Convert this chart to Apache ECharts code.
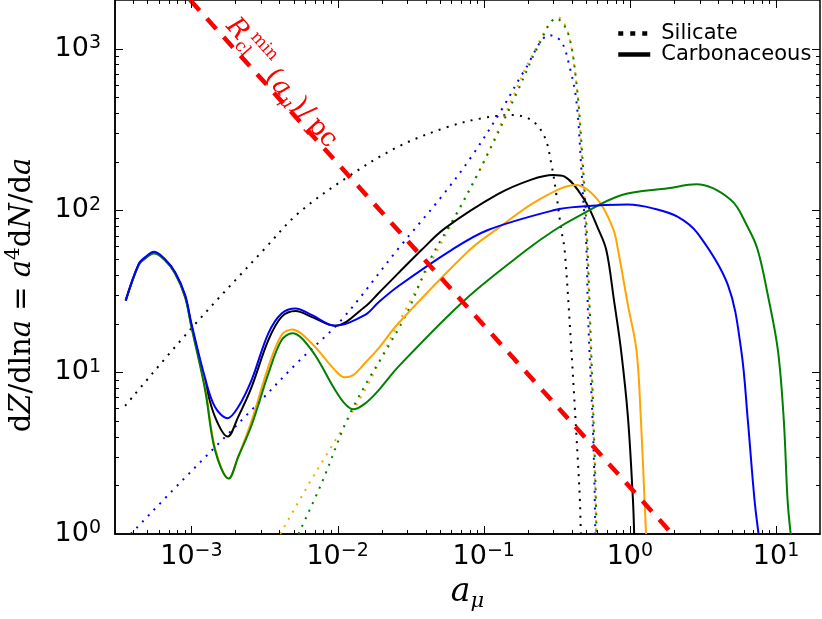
<!DOCTYPE html>
<html>
<head>
<meta charset="utf-8">
<title>dZ/dlna</title>
<script src="https://cdn.jsdelivr.net/npm/echarts@6/dist/echarts.min.js"></script>
<style>
  html, body { margin: 0; padding: 0; background: #fff; }
  #chart { width: 822px; height: 619px; }
</style>
</head>
<body>
<div id="chart"></div>
<script>
// axis ranges
const xMin = 3e-4, xMax = 20;
const yMin = 1, yMax = 2000;

// silicate (dotted)
const silBlackX = [3.52e-4, 1e-3, 3.19e-3, 5.38e-3, 0.0118, 0.026, 0.0571, 0.0964, 0.155, 0.212, 0.261, 0.29, 0.314, 0.34, 0.358, 0.398, 0.43, 0.454, 0.462];
const silBlackY = [6.2, 18.7, 58.3, 96, 161.6, 248, 329, 371, 389, 362, 285, 195, 126, 75, 57, 13.7, 4.2, 1.7, 1.0];
const silBlueX = [3.85e-4, 8.3e-4, 2.58e-3, 5.38e-3, 0.0106, 0.026, 0.0514, 0.0824, 0.132, 0.191, 0.283, 0.34, 0.387, 0.43, 0.465, 0.48, 0.504, 0.518, 0.56, 0.575, 0.58];
const silBlueY = [1.0, 2.06, 5.84, 11.6, 21, 58, 121.5, 215, 417, 738, 1213, 1104, 773, 481, 186, 116, 60, 22, 4.2, 1.7, 1.0];
const silOrangeX = [4.05e-3, 6.37e-3, 0.0154, 0.026, 0.0488, 0.0916, 0.155, 0.212, 0.324, 0.378, 0.431, 0.466, 0.504, 0.53, 0.565, 0.582, 0.588];
const silOrangeY = [1.0, 2.04, 7.76, 20, 58, 169, 481, 891, 1560, 1243, 611, 236, 72, 22, 4.2, 1.7, 1.0];
const silGreenX = [5.4e-3, 7.78e-3, 0.0125, 0.0289, 0.044, 0.0634, 0.1016, 0.172, 0.235, 0.314, 0.378, 0.431, 0.47, 0.508, 0.534, 0.568, 0.585, 0.591];
const silGreenY = [1.0, 2.06, 5.84, 22, 51.8, 91.4, 205, 555, 1028, 1538, 1243, 611, 236, 72, 22, 4.2, 1.7, 1.0];

// carbonaceous (solid)
const carBlackX = [3.55e-4, 4.35e-4, 4.83e-4, 5.56e-4, 6.6e-4, 7.74e-4, 9.06e-4, 1e-3, 1.24e-3, 1.45e-3, 1.77e-3, 2.09e-3, 2.58e-3, 3.36e-3, 4.14e-3, 5.16e-3, 6.64e-3, 9.6e-3, 0.0154, 0.019, 0.0375, 0.0542, 0.125, 0.212, 0.298, 0.358, 0.49, 0.605, 0.69, 0.778, 0.87, 0.97, 1.05, 1.07];
const carBlackY = [27.7, 46, 50.6, 54.5, 49.4, 41, 29.5, 19.5, 8.7, 5.3, 4.0, 5.3, 8.1, 15.8, 22, 23.9, 22, 19.4, 25.4, 30.7, 56.9, 77.5, 126, 155, 165.5, 161.6, 116, 77.5, 57, 28, 13.7, 5.3, 1.62, 1.0];
const carBlueX = [3.55e-4, 4.35e-4, 4.83e-4, 5.56e-4, 6.6e-4, 7.74e-4, 9.06e-4, 1e-3, 1.24e-3, 1.45e-3, 1.77e-3, 2.09e-3, 2.58e-3, 3.36e-3, 4.14e-3, 5.16e-3, 6.64e-3, 9.6e-3, 0.0154, 0.019, 0.026, 0.0601, 0.107, 0.306, 0.443, 0.97, 1.44, 2.13, 2.92, 4.69, 5.78, 6.41, 7.13, 7.6];
const carBlueY = [27.7, 46.5, 51.5, 55.5, 50, 41.5, 30, 20, 9.2, 6.1, 5.2, 6.1, 8.95, 17.4, 23.1, 24.8, 22.6, 19.4, 22.6, 27, 34, 56.9, 75.7, 100.6, 105.4, 108.7, 103, 91.4, 72, 34.6, 13.7, 5.07, 1.62, 1.0];
const carOrangeX = [3.55e-4, 4.35e-4, 4.83e-4, 5.56e-4, 6.6e-4, 7.74e-4, 9.06e-4, 1e-3, 1.24e-3, 1.45e-3, 1.8e-3, 2.09e-3, 2.58e-3, 3.36e-3, 4.14e-3, 4.9e-3, 6.64e-3, 9.6e-3, 0.0112, 0.0128, 0.0154, 0.019, 0.026, 0.080, 0.125, 0.236, 0.43, 0.605, 0.767, 0.83, 0.97, 1.11, 1.19, 1.26, 1.29];
const carOrangeY = [27.7, 46, 50.6, 54.3, 49.2, 40.8, 29.2, 19.2, 8.1, 3.4, 2.2, 3.0, 5.0, 10.8, 17, 18.4, 15.1, 10.3, 9.3, 9.6, 11.4, 14, 20, 56.9, 77.5, 116, 143.6, 116, 77.5, 57, 26, 13.7, 5.1, 1.62, 1.0];
const carGreenX = [3.55e-4, 4.35e-4, 4.83e-4, 5.56e-4, 6.6e-4, 7.74e-4, 9.06e-4, 1e-3, 1.24e-3, 1.45e-3, 1.8e-3, 2.09e-3, 2.58e-3, 3.36e-3, 4.14e-3, 4.9e-3, 6.64e-3, 9.6e-3, 0.0112, 0.0128, 0.0154, 0.019, 0.026, 0.074, 0.196, 0.306, 0.443, 0.88, 1.82, 2.85, 4.92, 6.4, 7.5, 8.79, 10.3, 11.3, 12.0, 12.6];
const carGreenY = [27.7, 46, 50.6, 54.3, 49.2, 40.8, 29, 19, 7.8, 3.3, 2.2, 3.0, 4.7, 9.8, 15.8, 17.4, 13.7, 7.8, 6.4, 5.9, 6.4, 7.7, 10.8, 27.9, 56.9, 75.7, 92, 124.5, 137, 145, 116, 79, 57, 30, 13.7, 5.1, 1.62, 1.0];

// R_cl^min(a) / pc, straight line in log-log
const rclX = [0.00098, 1.95];
const rclY = [2000, 1];

const zip = (xs, ys) => xs.map((x, i) => [x, ys[i]]);

// tick marks on all four sides, matplotlib style (inward)
const xTicks = [];
for (let k = -4; k <= 1; k++) {
  for (let m = 1; m <= 9; m++) {
    const v = m * Math.pow(10, k);
    if (v > xMin && v < xMax) xTicks.push([v, yMin, m === 1 ? 8 : 4]);
  }
}
const yTicks = [];
for (let k = 0; k <= 3; k++) {
  for (let m = 1; m <= 9; m++) {
    const v = m * Math.pow(10, k);
    if (v > yMin && v < yMax) yTicks.push([xMin, v, m === 1 ? 8 : 4]);
  }
}

const tickStyle = { stroke: '#000', lineWidth: 1 };

function powLabel(v) {
  const lg = Math.log10(v);
  const e = Math.round(lg);
  if (Math.abs(lg - e) > 1e-6) return '';
  return '{b|10}{s|' + (e < 0 ? '\u2212' + (-e) : e) + '}';
}

const tickRich = {
  b: { fontFamily: 'DejaVu Sans', fontSize: 27, lineHeight: 30, color: '#000' },
  s: { fontFamily: 'DejaVu Sans', fontSize: 19, lineHeight: 19, verticalAlign: 'top', color: '#000' }
};

function dotted(name, color, data) {
  return {
    name: name, type: 'line', data: data, symbol: 'none', smooth: 0.35,
    lineStyle: { color: color, width: 2, type: [2, 6.3] }, z: 2
  };
}
function solid(name, color, data) {
  return {
    name: name, type: 'line', data: data, symbol: 'none', smooth: 0.35,
    lineStyle: { color: color, width: 2 }, z: 3
  };
}

const chart = echarts.init(document.getElementById('chart'));

const serif = 'DejaVu Serif';

const option = {
  animation: false,
  backgroundColor: '#fff',
  grid: {
    left: 115, right: 2, top: 0, bottom: 85,
    show: true, borderColor: '#000', borderWidth: 1.5,
    outerBoundsMode: 'none'
  },
  legend: {
    orient: 'vertical',
    left: 611,
    top: 18,
    data: [
      { name: 'Silicate', itemStyle: { opacity: 0 }, lineStyle: { color: '#000', width: 4.5, type: [5, 7] } },
      { name: 'Carbonaceous', itemStyle: { opacity: 0 }, lineStyle: { color: '#000', width: 4.5, type: 'solid' } }
    ],
    itemWidth: 32,
    itemHeight: 14,
    itemGap: 0,
    selectedMode: false,
    textStyle: { fontFamily: 'DejaVu Sans', fontSize: 21, lineHeight: 20, color: '#000', padding: [0, 0, 0, 6] }
  },
  xAxis: {
    type: 'log',
    logBase: 10,
    min: xMin,
    max: xMax,
    name: '{a|a}{m|\u03bc}',
    nameLocation: 'middle',
    nameGap: 38,
    nameTextStyle: {
      rich: {
        a: { fontFamily: serif, fontStyle: 'italic', fontSize: 33, lineHeight: 40, color: '#000' },
        m: { fontFamily: serif, fontStyle: 'italic', fontSize: 21, lineHeight: 22, verticalAlign: 'bottom', color: '#000' }
      }
    },
    axisLine: { lineStyle: { color: '#000', width: 1.5 } },
    axisTick: { show: false },
    splitLine: { show: false },
    axisLabel: { formatter: powLabel, margin: 8, rich: tickRich }
  },
  yAxis: {
    type: 'log',
    logBase: 10,
    min: yMin,
    max: yMax,
    name: '{r|d}{i|Z}{r|/dln}{i|a}{r| = }{i|a}{p|4}{r|d}{i|N}{r|/d}{i|a}',
    nameLocation: 'middle',
    nameRotate: 90,
    nameGap: 75,
    nameTextStyle: {
      padding: [0, 56, 0, 0],
      rich: {
        r: { fontFamily: serif, fontSize: 29, lineHeight: 36, color: '#000' },
        i: { fontFamily: serif, fontStyle: 'italic', fontSize: 29, lineHeight: 36, color: '#000' },
        p: { fontFamily: serif, fontSize: 20, lineHeight: 24, verticalAlign: 'top', color: '#000' }
      }
    },
    axisLine: { lineStyle: { color: '#000', width: 1.5 } },
    axisTick: { show: false },
    splitLine: { show: false },
    axisLabel: { formatter: powLabel, margin: 14, rich: tickRich }
  },
  series: [
    dotted('sil-black', '#000000', zip(silBlackX, silBlackY)),
    dotted('sil-blue', '#0000ff', zip(silBlueX, silBlueY)),
    dotted('sil-orange', '#ffa500', zip(silOrangeX, silOrangeY)),
    dotted('sil-green', '#008000', zip(silGreenX, silGreenY)),
    solid('car-black', '#000000', zip(carBlackX, carBlackY)),
    solid('car-orange', '#ffa500', zip(carOrangeX, carOrangeY)),
    solid('car-green', '#008000', zip(carGreenX, carGreenY)),
    solid('car-blue', '#0000ff', zip(carBlueX, carBlueY)),
    {
      name: 'rcl', type: 'line', data: zip(rclX, rclY), symbol: 'none', z: 4,
      lineStyle: { color: '#ff0000', width: 4.5, type: [14, 11] }
    },
    // legend-only entries
    {
      name: 'Silicate', type: 'line', data: [], symbol: 'none',
      itemStyle: { color: '#000' }, lineStyle: { color: '#000', width: 4.5, type: [5, 7] }
    },
    {
      name: 'Carbonaceous', type: 'line', data: [], symbol: 'none',
      itemStyle: { color: '#000' }, lineStyle: { color: '#000', width: 4.5 }
    },
    {
      name: 'xticks', type: 'custom', silent: true, z: 10, clip: false,
      data: xTicks,
      renderItem: function (params, api) {
        const v = api.value(0), len = api.value(2);
        const b = api.coord([v, yMin]), t = api.coord([v, yMax]);
        const x = Math.round(b[0]) + 0.5;
        return {
          type: 'group', children: [
            { type: 'line', shape: { x1: x, y1: b[1], x2: x, y2: b[1] - len }, style: tickStyle },
            { type: 'line', shape: { x1: x, y1: t[1], x2: x, y2: t[1] + len }, style: tickStyle }
          ]
        };
      }
    },
    {
      name: 'yticks', type: 'custom', silent: true, z: 10, clip: false,
      data: yTicks,
      renderItem: function (params, api) {
        const v = api.value(1), len = api.value(2);
        const l = api.coord([xMin, v]), r = api.coord([xMax, v]);
        const y = Math.round(l[1]) + 0.5;
        return {
          type: 'group', children: [
            { type: 'line', shape: { x1: l[0], y1: y, x2: l[0] + len, y2: y }, style: tickStyle },
            { type: 'line', shape: { x1: r[0], y1: y, x2: r[0] - len, y2: y }, style: tickStyle }
          ]
        };
      }
    }
  ]
};

chart.setOption(option);

// label along the red dashed line
const p0 = chart.convertToPixel({ xAxisIndex: 0, yAxisIndex: 0 }, [rclX[0], rclY[0]]);
const p1 = chart.convertToPixel({ xAxisIndex: 0, yAxisIndex: 0 }, [rclX[1], rclY[1]]);
const theta = Math.atan2(p1[1] - p0[1], p1[0] - p0[0]);
const red = '#ff0000';
// [text, along, perp, size, italic]
const rclLabel = [
  ['R', 53, 15, 26, true],
  ['cl', 71, 6, 17, false],
  ['min', 84, 24, 17, false],
  ['(', 112, 10, 26, false],
  ['a', 126, 9, 26, true],
  ['\u03bc', 140, 2, 17, true],
  [')', 151, 10, 26, false],
  ['/', 162, 10, 26, false],
  ['pc', 187, 9, 26, false]
];
chart.setOption({
  graphic: [{
    type: 'group',
    x: p0[0],
    y: p0[1],
    rotation: -theta,
    z: 20,
    children: rclLabel.map(function (t) {
      return {
        type: 'text',
        x: t[1],
        y: -t[2],
        style: {
          text: t[0],
          fill: red,
          fontFamily: serif,
          fontSize: t[3],
          fontStyle: t[4] ? 'italic' : 'normal',
          align: 'center',
          verticalAlign: 'middle'
        }
      };
    })
  }]
});
</script>
</body>
</html>
